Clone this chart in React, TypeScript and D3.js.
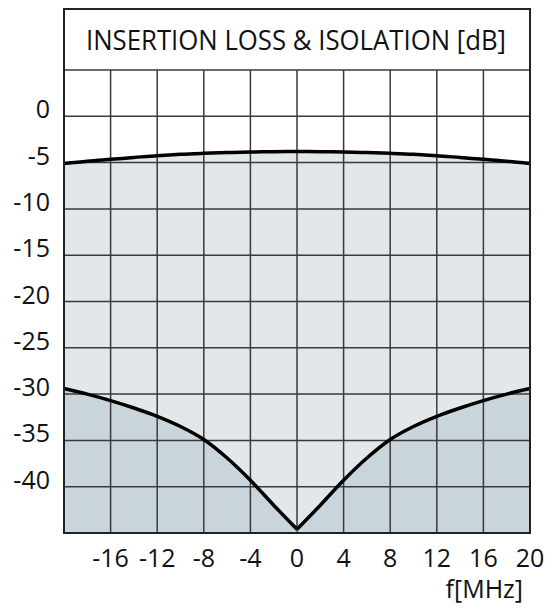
import React from 'react';
import * as d3 from 'd3';

// frequency offset in MHz
const freqs = [-20, -18, -16, -14, -12, -10, -8, -6, -4, -2, 0, 2, 4, 6, 8, 10, 12, 14, 16, 18, 20];
// insertion loss [dB]
const insertionLoss = [-5.1, -4.85, -4.65, -4.45, -4.25, -4.1, -4.0, -3.92, -3.86, -3.82, -3.8, -3.82, -3.86, -3.92, -4.0, -4.1, -4.25, -4.45, -4.65, -4.85, -5.1];
// isolation [dB]
const isolation = [-29.4, -30.0, -30.7, -31.5, -32.4, -33.5, -34.9, -36.9, -39.3, -42.0, -44.6, -42.0, -39.3, -36.9, -34.9, -33.5, -32.4, -31.5, -30.7, -30.0, -29.4];

const xTicks = [-16, -12, -8, -4, 0, 4, 8, 12, 16, 20];
const yTicks = [0, -5, -10, -15, -20, -25, -30, -35, -40];
const xGrid = [-16, -12, -8, -4, 0, 4, 8, 12, 16];
const yGrid = [5, 0, -5, -10, -15, -20, -25, -30, -35, -40];

const title = 'INSERTION LOSS & ISOLATION [dB]';
const xTitle = 'f[MHz]';

const W = 549;
const H = 615;
const left = 64;
const right = 530;
const top = 9;
const plotTop = 70;
const bottom = 533;
const font = "'Open Sans', 'Noto Sans', sans-serif";

export default function App() {
  const x = d3.scaleLinear().domain([-20, 20]).range([left, right]);
  const y = d3.scaleLinear().domain([-45, 5]).range([bottom, plotTop]);

  const pts = freqs.map((f, i) => ({ f, il: insertionLoss[i], iso: isolation[i] }));
  // isolation has a sharp notch at 0 MHz, so each side is drawn on its own
  const leftHalf = pts.filter((d) => d.f <= 0);
  const rightHalf = pts.filter((d) => d.f >= 0);

  const curve = d3.curveCatmullRom.alpha(0.5);
  const ilArea = d3.area<any>().x((d) => x(d.f)).y0(bottom).y1((d) => y(d.il)).curve(curve);
  const ilLine = d3.line<any>().x((d) => x(d.f)).y((d) => y(d.il)).curve(curve);
  const isoArea = d3.area<any>().x((d) => x(d.f)).y0(bottom).y1((d) => y(d.iso)).curve(curve);
  const isoLine = d3.line<any>().x((d) => x(d.f)).y((d) => y(d.iso)).curve(curve);

  return (
    <svg width={W} height={H} style={{ position: 'absolute', left: 0, top: 0, background: '#fff' }}>
      {/* fills */}
      <path d={ilArea(pts) || ''} fill="#e2e7ea" />
      <path d={isoArea(leftHalf) || ''} fill="#cad4db" />
      <path d={isoArea(rightHalf) || ''} fill="#cad4db" />

      {/* grid */}
      {xGrid.map((v) => (
        <line key={'gx' + v} x1={x(v)} x2={x(v)} y1={plotTop} y2={bottom} stroke="#3a3a3a" strokeWidth={1.5} />
      ))}
      {yGrid.map((v) => (
        <line key={'gy' + v} x1={left} x2={right} y1={y(v)} y2={y(v)} stroke="#3a3a3a" strokeWidth={1.5} />
      ))}

      {/* curves */}
      <path d={ilLine(pts) || ''} fill="none" stroke="#000" strokeWidth={3.5} />
      <path d={isoLine(leftHalf) || ''} fill="none" stroke="#000" strokeWidth={3.5} />
      <path d={isoLine(rightHalf) || ''} fill="none" stroke="#000" strokeWidth={3.5} />

      {/* frame */}
      <rect x={left} y={top} width={right - left} height={bottom - top} fill="none" stroke="#222" strokeWidth={2} />

      <text x={296} y={50} textAnchor="middle" fontFamily={font} fontSize={27} fill="#111"
        textLength={420} lengthAdjust="spacingAndGlyphs">
        {title}
      </text>

      {yTicks.map((v) => (
        <text key={'ty' + v} x={50} y={y(v) + 2} textAnchor="end" fontFamily={font} fontSize={25} fill="#111">
          {v}
        </text>
      ))}
      {xTicks.map((v) => (
        <text key={'tx' + v} x={x(v)} y={567} textAnchor="middle" fontFamily={font} fontSize={25} fill="#111">
          {v}
        </text>
      ))}
      <text x={523} y={598} textAnchor="end" fontFamily={font} fontSize={25} fill="#111">
        {xTitle}
      </text>
    </svg>
  );
}
